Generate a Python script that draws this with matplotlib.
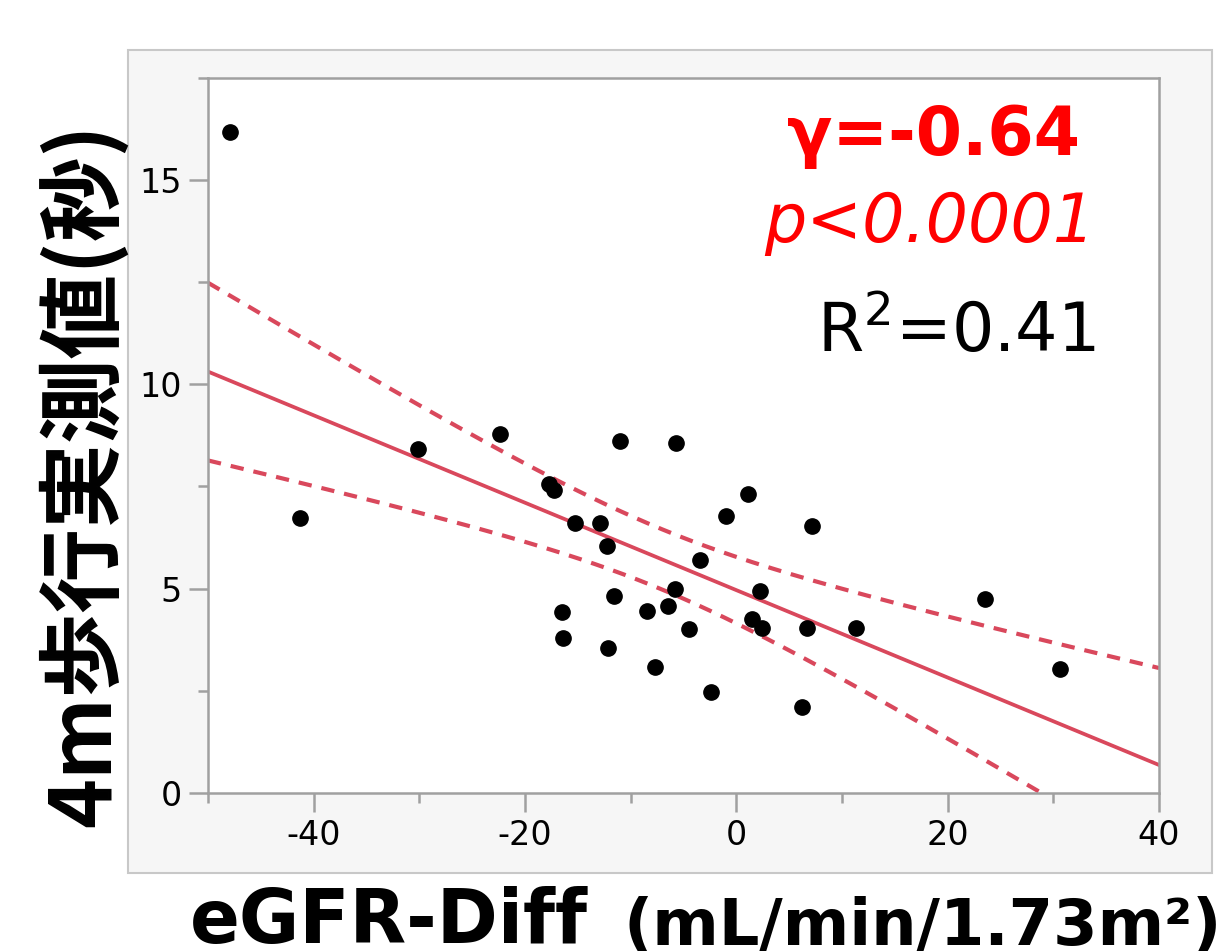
import numpy as np
import matplotlib
matplotlib.use("Agg")
import matplotlib.pyplot as plt
from matplotlib.patches import Rectangle

plt.rcParams['axes.unicode_minus'] = False

# ---- data ----
egfr_diff = [-47.9, -41.3, -30.1, -22.4, -17.7, -17.3, -15.3, -12.9, -12.2, -11.0,
             -5.7, 1.1, -1.0, 7.2, -3.4, -5.8, -6.5, -11.6, -16.5, -16.4,
             -12.1, -8.5, -4.5, -7.7, -2.4, 2.2, 1.5, 2.4, 6.7, 6.2,
             11.3, 23.5, 30.6]
walk_time = [16.19, 6.72, 8.42, 8.78, 7.55, 7.42, 6.60, 6.61, 6.04, 8.60,
             8.56, 7.32, 6.78, 6.53, 5.71, 5.00, 4.56, 4.82, 4.42, 3.78,
             3.54, 4.46, 4.00, 3.08, 2.46, 4.94, 4.25, 4.03, 4.03, 2.10,
             4.03, 4.74, 3.03]
x_ticks = [-40, -20, 0, 20, 40]
y_ticks = [0, 5, 10, 15]
T_CRIT = 2.04  # 95% t critical value, df = n-2
stat_r = "γ=-0.64"
stat_p = "p<0.0001"
stat_r2 = "R$^{2}$=0.41"
x_title = "eGFR-Diff"
x_unit = "(mL/min/1.73m²)"
y_title = "4m歩行実測値(秒)"

x = np.array(egfr_diff)
y = np.array(walk_time)
n = len(x)
slope, intercept = np.polyfit(x, y, 1)
resid = y - (slope * x + intercept)
s = np.sqrt(np.sum(resid ** 2) / (n - 2))
sxx = np.sum((x - x.mean()) ** 2)
xs = np.linspace(-50, 40, 200)
fit = slope * xs + intercept
half = T_CRIT * s * np.sqrt(1 / n + (xs - x.mean()) ** 2 / sxx)

W, H = 1232, 951
fig = plt.figure(figsize=(W / 100, H / 100), dpi=100)
fig.patch.set_facecolor('white')

# outer panel
fig.patches.append(Rectangle((128 / W, 1 - 873 / H), (1212 - 128) / W, (873 - 50) / H,
                             transform=fig.transFigure, facecolor='#f6f6f6',
                             edgecolor='#c8c8c8', linewidth=1.5, zorder=-5))

ax = fig.add_axes([208 / W, 1 - 792.7 / H, (1159 - 208) / W, (792.7 - 78) / H])
ax.set_zorder(2)
ax.set_facecolor('white')
ax.set_xlim(-50, 40)
ax.set_ylim(0, 17.5)

line_c = '#d9485c'
ax.plot(xs, fit, color=line_c, lw=2.7, zorder=2)
ax.plot(xs, fit + half, color=line_c, lw=3, ls=(0, (3.2, 2.4)), zorder=2)
ax.plot(xs, fit - half, color=line_c, lw=3, ls=(0, (3.2, 2.4)), zorder=2)
ax.plot(x, y, 'o', color='black', ms=11, zorder=3, clip_on=False)

ax.set_xticks(x_ticks)
ax.set_yticks(y_ticks)
ax.set_xticks(np.arange(-50, 41, 10), minor=True)
ax.set_yticks(np.arange(0, 17.6, 2.5), minor=True)
spine_c = '#a0a0a0'
for sp in ax.spines.values():
    sp.set_color(spine_c)
    sp.set_linewidth(1.8)
ax.tick_params(which='major', length=14, width=1.8, color=spine_c,
               labelsize=24, labelcolor='black', pad=5)
ax.tick_params(which='minor', length=7, width=1.8, color=spine_c)

fig.text(1080 / W, 1 - 155 / H, stat_r, color='#ff0000', fontsize=48,
         fontweight='bold', ha='right', va='baseline')
fig.text(1095 / W, 1 - 242 / H, stat_p, color='#ff0000', fontsize=48,
         fontstyle='italic', ha='right', va='baseline')
fig.text(1095 / W, 1 - 352 / H, stat_r2, color='black', fontsize=48,
         ha='right', va='baseline')

fig.text(190 / W, 1 - 943 / H, x_title, fontsize=53, fontweight='bold',
         ha='left', va='baseline')
fig.text(624 / W, 1 - 945 / H, x_unit, fontsize=46, fontweight='bold',
         ha='left', va='baseline')
fig.text(83 / W, 1 - 475 / H, y_title, fontsize=61, fontweight='bold',
         family=['Noto Sans CJK JP', 'DejaVu Sans'], rotation=90,
         ha='center', va='center')

fig.savefig('out.png', dpi=100)
